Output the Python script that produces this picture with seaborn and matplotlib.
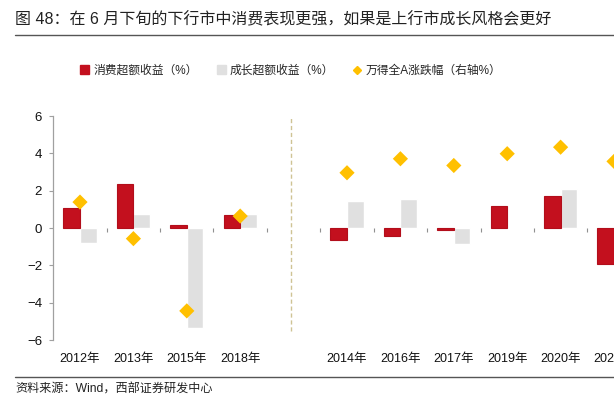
import matplotlib
matplotlib.use("Agg")
import matplotlib.pyplot as plt
import seaborn as sns
import pandas as pd
from matplotlib.patches import Patch
from matplotlib.lines import Line2D

# data
years = ["2012年", "2013年", "2015年", "2018年", " ",
         "2014年", "2016年", "2017年", "2019年", "2020年", "2021年"]
consume_excess = [1.05, 2.37, 0.14, 0.68, None, -0.66, -0.41, -0.09, 1.16, 1.70, -1.94]
growth_excess = [-0.80, 0.77, -5.33, 0.77, None, 1.45, 1.57, -0.87, 0.0, 2.07, 0.50]
wind_all_a = [1.39, -0.57, -4.44, 0.64, None, 2.96, 3.71, 3.35, 3.98, 4.33, 3.57]

s_consume = "消费超额收益（%）"
s_growth = "成长超额收益（%）"
s_wind = "万得全A涨跌幅（右轴%）"

red = "#C3101E"
gray = "#E0E0E0"
gold = "#FFC000"

sns.set_theme(style="white")
plt.rcParams["font.family"] = ["Liberation Sans", "Noto Sans CJK SC", "DejaVu Sans"]

rows = []
for yr, c, g in zip(years, consume_excess, growth_excess):
    if c is None:
        continue
    rows.append({"year": yr, "series": s_consume, "value": c})
    rows.append({"year": yr, "series": s_growth, "value": g})
df = pd.DataFrame(rows)

fig = plt.figure(figsize=(6.14, 3.98), dpi=100)
ax = fig.add_axes([0.0868, 0.1457, 0.9567, 0.5628])

sns.barplot(data=df, x="year", y="value", hue="series", order=years,
            hue_order=[s_consume, s_growth], palette=[red, gray],
            saturation=1, width=0.62, ax=ax, legend=False, zorder=3)
for bar in ax.patches[:len(ax.patches) // 2]:
    bar.set_edgecolor("#B20E1B")
    bar.set_linewidth(0.8)
    bar.set_zorder(4)

ax.set_ylim(-6, 6)
ax.set_xlim(-0.5, len(years) - 0.5)
ax.set_yticks([-6, -4, -2, 0, 2, 4, 6])
ax.set_xlabel("")
ax.set_ylabel("")
ax.tick_params(axis="y", direction="out", length=3, width=0.8, color="#A0A0A0",
               labelsize=9.5, labelcolor="#111111", pad=5, left=True)
ax.tick_params(axis="x", length=0, labelsize=9, labelcolor="#111111", pad=9)
for side in ["top", "right", "bottom"]:
    ax.spines[side].set_visible(False)
ax.spines["left"].set_color("#A0A0A0")
ax.spines["left"].set_linewidth(0.9)

# zero axis with inward ticks between categories
sec = ax.secondary_xaxis(0.5)
sec.set_xticks([i + 0.5 for i in range(len(years) - 1)])
sec.set_xticklabels([])
sec.tick_params(direction="in", length=3, width=0.8, color="#909090")
sec.spines["bottom"].set_color("#A8A8A8")
sec.spines["bottom"].set_linewidth(1.4)
for side in ["top", "left", "right"]:
    sec.spines[side].set_visible(False)

# divider between down- and up-market years
gap = years.index(" ")
ax.axvline(gap - 0.05, ymin=0.04, ymax=1.0, color="#CFC394", lw=1.0,
           linestyle=(0, (3, 2)), zorder=1)

# Wind all-A on the right axis
ax2 = ax.twinx()
pts = pd.DataFrame({"x": [i for i, v in enumerate(wind_all_a) if v is not None],
                    "y": [v for v in wind_all_a if v is not None]})
sns.scatterplot(data=pts, x="x", y="y", marker="D", s=60, color=gold,
                edgecolor="none", ax=ax2, zorder=5, legend=False)
ax2.set_ylim(-6, 6)
ax2.set_xlim(-0.5, len(years) - 0.5)
ax2.set_ylabel("")
ax2.set_yticks([])
for side in ax2.spines:
    ax2.spines[side].set_visible(False)

handles = [Patch(facecolor=red, edgecolor=red),
           Patch(facecolor=gray, edgecolor=gray),
           Line2D([], [], marker="D", color=gold, linestyle="none", markersize=4)]
fig.legend(handles, [s_consume, s_growth, s_wind], loc="center",
           bbox_to_anchor=(0.474, 0.822), ncol=3, frameon=False, fontsize=8.5,
           handlelength=0.75, handleheight=0.75, handletextpad=0.35,
           columnspacing=1.6)

fig.text(0.025, 1 - 20 / 398, "图 48：在 6 月下旬的下行市中消费表现更强，如果是上行市成长风格会更好",
         fontsize=11.5, va="center", ha="left", color="#222222")
fig.add_artist(Line2D([15 / 614, 1.0], [1 - 35 / 398] * 2, color="#555555", lw=1.0))
fig.add_artist(Line2D([15 / 614, 1.0], [1 - 377 / 398] * 2, color="#555555", lw=1.0))
fig.text(0.025, 1 - 390 / 398, "资料来源：Wind，西部证券研发中心",
         fontsize=8.7, va="center", ha="left", color="#222222")

fig.savefig("out.png", dpi=100)
